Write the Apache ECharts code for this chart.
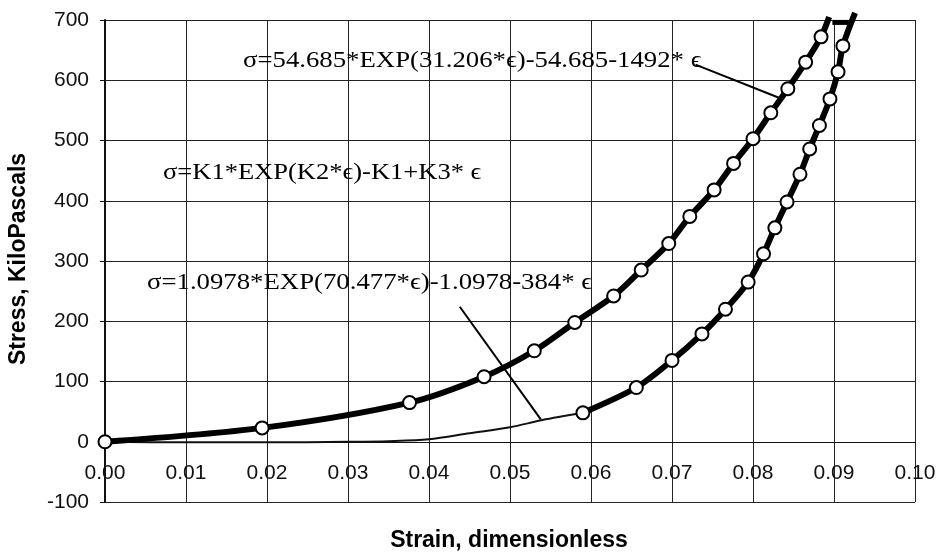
<!DOCTYPE html>
<html>
<head>
<meta charset="utf-8" />
<title>Stress vs Strain</title>
<script src="https://cdn.jsdelivr.net/npm/echarts@6/dist/echarts.min.js"></script>
<style>
  html, body { margin: 0; padding: 0; background: #fff; }
  #chart { width: 944px; height: 554px; }
</style>
</head>
<body>
<div id="chart"></div>
<script>
// loading curve (markers)
var loadStrain = [0, 0.0194, 0.0376, 0.0468, 0.0530, 0.0580, 0.0628, 0.0662, 0.0696, 0.0722, 0.0752, 0.0776, 0.0800, 0.0822, 0.0843, 0.0865, 0.0884];
var loadStress = [0, 23, 65, 108, 151, 198, 242, 285, 329, 374, 418, 462, 503, 546, 586, 630, 672];
var loadEnd = [0.0894, 705];

// unloading curve (markers), from the top down
var unloadStrain = [0.0911, 0.0905, 0.0895, 0.0882, 0.0870, 0.0858, 0.0842, 0.0827, 0.0813, 0.0794, 0.0766, 0.0737, 0.0700, 0.0656, 0.0590];
var unloadStress = [657, 614, 569, 525, 486, 444, 398, 355, 312, 265, 220, 179, 135, 90, 48];
var unloadStart = [0.0926, 712];

// short bar joining the two curves at the top
var topStrain = [0.0898, 0.0921];
var topStress = [696, 696];

// thin fitted line below the first unloading marker
var thinStrain = [0, 0.01, 0.02, 0.03, 0.035, 0.04, 0.045, 0.05, 0.054, 0.059];
var thinStress = [0, -1, -1, 0, 1, 4, 14, 24, 36, 48];

// leader lines from the equations
var leader1 = [[0.0729, 626], [0.0832, 571]];
var leader2 = [[0.0438, 224], [0.0538, 37]];

var xTicks = { min: 0, max: 0.1, step: 0.01 };
var yTicks = { min: -100, max: 700, step: 100 };

var eqTop = "σ=54.685*EXP(31.206*ϵ)-54.685-1492* ϵ";
var eqMid = "σ=K1*EXP(K2*ϵ)-K1+K3* ϵ";
var eqLow = "σ=1.0978*EXP(70.477*ϵ)-1.0978-384* ϵ";

function pairs(xs, ys) {
  return xs.map(function (x, i) { return [x, ys[i]]; });
}

var loadData = pairs(loadStrain, loadStress);
loadData.push({ value: loadEnd, symbol: "none" });

var unloadData = [{ value: unloadStart, symbol: "none" }].concat(pairs(unloadStrain, unloadStress));

var chart = echarts.init(document.getElementById("chart"));

var serif = "'Liberation Serif', 'Times New Roman', serif";
var sans = "'Liberation Sans', Arial, sans-serif";

// plot box height in px, used to lift the x axis up to stress = 0
var plotHeight = 554 - 20 - 52;
var zeroOffset = -plotHeight * (0 - yTicks.min) / (yTicks.max - yTicks.min);

chart.setOption({
  animation: false,
  backgroundColor: "#fff",
  grid: { left: 105, right: 29, top: 20, bottom: 52 },
  xAxis: {
    type: "value",
    min: xTicks.min,
    max: xTicks.max,
    interval: xTicks.step,
    offset: zeroOffset,
    axisLine: { onZero: false, lineStyle: { color: "#111", width: 1 } },
    axisTick: { show: false },
    axisLabel: {
      margin: 21,
      color: "#111",
      fontSize: 21,
      fontFamily: sans,
      formatter: function (v) { return v.toFixed(2); }
    },
    splitLine: { show: true, lineStyle: { color: "#222", width: 1 } }
  },
  yAxis: {
    type: "value",
    min: yTicks.min,
    max: yTicks.max,
    interval: yTicks.step,
    axisLine: { show: true, onZero: false, lineStyle: { color: "#111", width: 2 } },
    axisTick: { show: true, length: 5, lineStyle: { color: "#111" } },
    axisLabel: { margin: 16, color: "#111", fontSize: 21, fontFamily: sans },
    splitLine: { show: true, lineStyle: { color: "#222", width: 1 } }
  },
  series: [
    {
      name: "thin",
      type: "line",
      data: pairs(thinStrain, thinStress),
      smooth: 0.3,
      showSymbol: false,
      lineStyle: { color: "#111", width: 2 },
      z: 3
    },
    {
      name: "loading",
      type: "line",
      data: loadData,
      smooth: 0.3,
      clip: false,
      symbol: "circle",
      symbolSize: 13,
      itemStyle: { color: "#fff", borderColor: "#000", borderWidth: 2 },
      lineStyle: { color: "#000", width: 6 },
      z: 5
    },
    {
      name: "unloading",
      type: "line",
      data: unloadData,
      smooth: 0.3,
      clip: false,
      symbol: "circle",
      symbolSize: 13,
      itemStyle: { color: "#fff", borderColor: "#000", borderWidth: 2 },
      lineStyle: { color: "#000", width: 6 },
      z: 5
    },
    {
      name: "top",
      type: "line",
      data: pairs(topStrain, topStress),
      showSymbol: false,
      clip: false,
      lineStyle: { color: "#000", width: 5 },
      z: 4
    },
    {
      name: "leader1",
      type: "line",
      data: leader1,
      showSymbol: false,
      lineStyle: { color: "#000", width: 2 },
      z: 6
    },
    {
      name: "leader2",
      type: "line",
      data: leader2,
      showSymbol: false,
      lineStyle: { color: "#000", width: 2 },
      z: 6
    }
  ],
  graphic: [
    {
      type: "text", x: 243, y: 61, z: 10, scaleX: 1.115,
      style: { text: eqTop, fontSize: 24, fontFamily: serif, fill: "#000", verticalAlign: "middle" }
    },
    {
      type: "text", x: 163, y: 173, z: 10, scaleX: 1.105,
      style: { text: eqMid, fontSize: 24, fontFamily: serif, fill: "#000", verticalAlign: "middle" }
    },
    {
      type: "text", x: 147, y: 283, z: 10, scaleX: 1.115,
      style: { text: eqLow, fontSize: 24, fontFamily: serif, fill: "#000", verticalAlign: "middle" }
    },
    {
      type: "text", x: 509, y: 541,
      style: { text: "Strain, dimensionless", fontSize: 23, fontWeight: "bold", fontFamily: sans, fill: "#000", align: "center", verticalAlign: "middle" }
    },
    {
      type: "text", x: 19, y: 259, rotation: Math.PI / 2,
      style: { text: "Stress, KiloPascals", fontSize: 23, fontWeight: "bold", fontFamily: sans, fill: "#000", align: "center", verticalAlign: "middle" }
    }
  ]
});
</script>
</body>
</html>
